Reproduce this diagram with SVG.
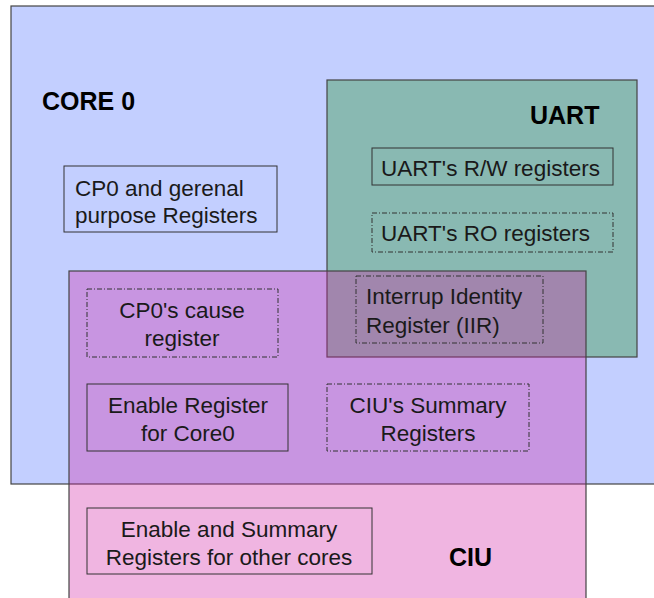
<svg xmlns="http://www.w3.org/2000/svg" width="654" height="598" viewBox="0 0 654 598">
<style>
.area{stroke:#444;stroke-width:1.2}
.box{fill:none;stroke:#333;stroke-width:1}
.dd{fill:none;stroke:#333;stroke-width:1;stroke-dasharray:5 2 1 2}
text{font-family:"Liberation Sans",Arial,sans-serif;font-size:22.5px;fill:#1a1a1a}
.t{font-weight:bold;font-size:25px;fill:#000}
.c{text-anchor:middle}
</style>
<rect width="654" height="598" fill="#ffffff"/>
<g id="core0">
<rect class="area" x="11" y="6" width="660" height="478" fill="#c3cfff"/>
<text class="t" x="42" y="110">CORE 0</text>
</g>
<g id="uart">
<rect class="area" x="327" y="80" width="310" height="277" fill="#89b9b2"/>
<text class="t" x="530" y="124">UART</text>
</g>
<g id="ciu">
<rect class="area" x="69" y="271" width="517" height="340" fill="rgb(210,30,165)" fill-opacity="0.33"/>
<text class="t" x="449" y="566">CIU</text>
</g>
<g id="cp0gp">
<rect class="box" x="64" y="166" width="213" height="66"/>
<text x="75" y="196">CP0 and gerenal</text>
<text x="75" y="223">purpose Registers</text>
</g>
<g id="uartrw">
<rect class="box" x="372" y="148" width="241" height="37"/>
<text x="381" y="176">UART's R/W registers</text>
</g>
<g id="uartro">
<rect class="dd" x="372" y="213" width="241" height="39"/>
<text x="381" y="241">UART's RO registers</text>
</g>
<g id="iir">
<rect class="dd" x="356" y="276" width="187" height="67"/>
<text x="366" y="304">Interrup Identity</text>
<text x="366" y="333">Register (IIR)</text>
</g>
<g id="cp0cause">
<rect class="dd" x="87" y="289" width="191" height="68"/>
<text class="c" x="182" y="318">CP0's cause</text>
<text class="c" x="182" y="346">register</text>
</g>
<g id="enablecore0">
<rect class="box" x="87" y="384" width="201" height="67"/>
<text class="c" x="188" y="413">Enable Register</text>
<text class="c" x="188" y="441">for Core0</text>
</g>
<g id="ciusummary">
<rect class="dd" x="327" y="384" width="202" height="67"/>
<text class="c" x="428" y="413">CIU's Summary</text>
<text class="c" x="428" y="441">Registers</text>
</g>
<g id="othercores">
<rect class="box" x="87" y="508" width="285" height="66"/>
<text class="c" x="229" y="537">Enable and Summary</text>
<text class="c" x="229" y="565">Registers for other cores</text>
</g>
<g id="connectors"></g>
</svg>
